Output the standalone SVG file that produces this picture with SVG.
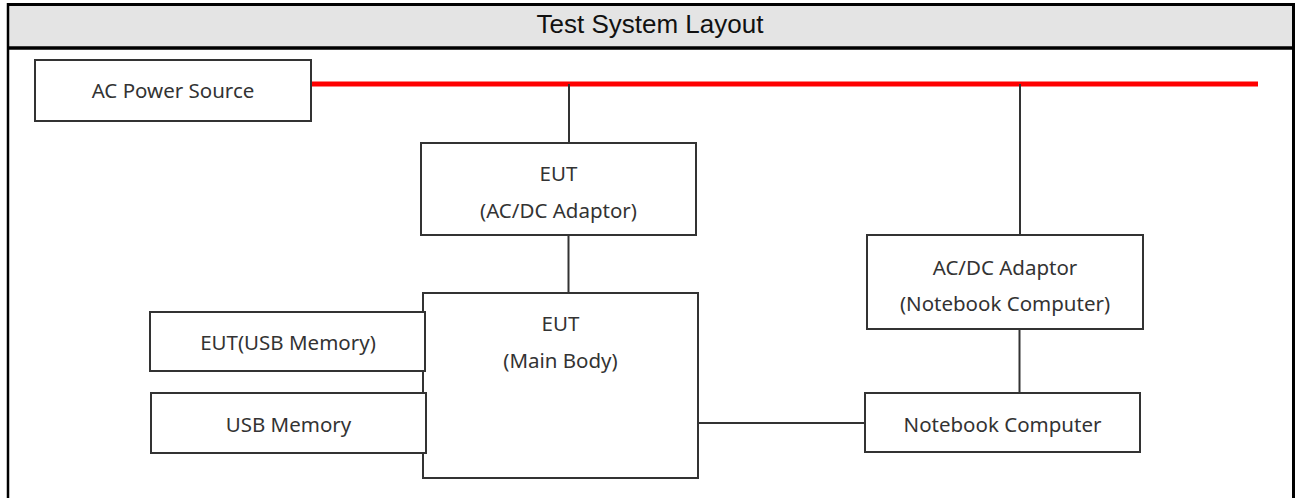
<svg xmlns="http://www.w3.org/2000/svg" width="1295" height="498" viewBox="0 0 1295 498">
<style>
.box{fill:#fff;stroke:#333;stroke-width:2}
.lbl{font-family:"Noto Sans","Open Sans",sans-serif;font-size:20.5px;fill:#333;text-anchor:middle}
.conn{stroke:#333;stroke-width:2;fill:none}
.frame{stroke:#000;fill:none}
</style>
<rect x="0" y="0" width="1295" height="498" fill="#fff"/>
<g id="frame">
<rect x="8" y="5" width="1285.5" height="42" fill="#e4e4e4"/>
<line class="frame" x1="8" y1="4.5" x2="1294" y2="4.5" stroke-width="3"/>
<line class="frame" x1="8" y1="48" x2="1294" y2="48" stroke-width="3.5"/>
<line class="frame" x1="8" y1="3" x2="8" y2="498" stroke-width="2.5"/>
<line class="frame" x1="1293.5" y1="3" x2="1293.5" y2="498" stroke-width="3"/>
<text x="650" y="33" font-family="'Liberation Sans',Arial,sans-serif" font-size="26" fill="#111" text-anchor="middle">Test System Layout</text>
</g>
<g id="connectors">
<line x1="311" y1="84" x2="1258" y2="84" stroke="#ff0000" stroke-width="5"/>
<line class="conn" x1="569" y1="84" x2="569" y2="143"/>
<line class="conn" x1="568.5" y1="235" x2="568.5" y2="293"/>
<line class="conn" x1="1020" y1="84" x2="1020" y2="235"/>
<line class="conn" x1="1019.5" y1="329" x2="1019.5" y2="393"/>
<line class="conn" x1="698" y1="423" x2="865" y2="423"/>
</g>
<g id="ac-power-source">
<rect class="box" x="35" y="60" width="276" height="61"/>
<text class="lbl" x="173" y="98">AC Power Source</text>
</g>
<g id="eut-adaptor">
<rect class="box" x="421" y="143" width="275" height="92"/>
<text class="lbl" x="558.5" y="181">EUT</text>
<text class="lbl" x="558.5" y="218">(AC/DC Adaptor)</text>
</g>
<g id="eut-main-body">
<rect class="box" x="423" y="293" width="275" height="185"/>
<text class="lbl" x="560.5" y="331">EUT</text>
<text class="lbl" x="560.5" y="368">(Main Body)</text>
</g>
<g id="eut-usb-memory">
<rect class="box" x="150" y="312" width="275" height="59"/>
<text class="lbl" x="288" y="350">EUT(USB Memory)</text>
</g>
<g id="usb-memory">
<rect class="box" x="151" y="393" width="275" height="60"/>
<text class="lbl" x="288.5" y="432">USB Memory</text>
</g>
<g id="acdc-adaptor-notebook">
<rect class="box" x="867" y="235" width="276" height="94"/>
<text class="lbl" x="1005" y="275">AC/DC Adaptor</text>
<text class="lbl" x="1005" y="311">(Notebook Computer)</text>
</g>
<g id="notebook-computer">
<rect class="box" x="865" y="393" width="275" height="59"/>
<text class="lbl" x="1002.5" y="432">Notebook Computer</text>
</g>
</svg>
